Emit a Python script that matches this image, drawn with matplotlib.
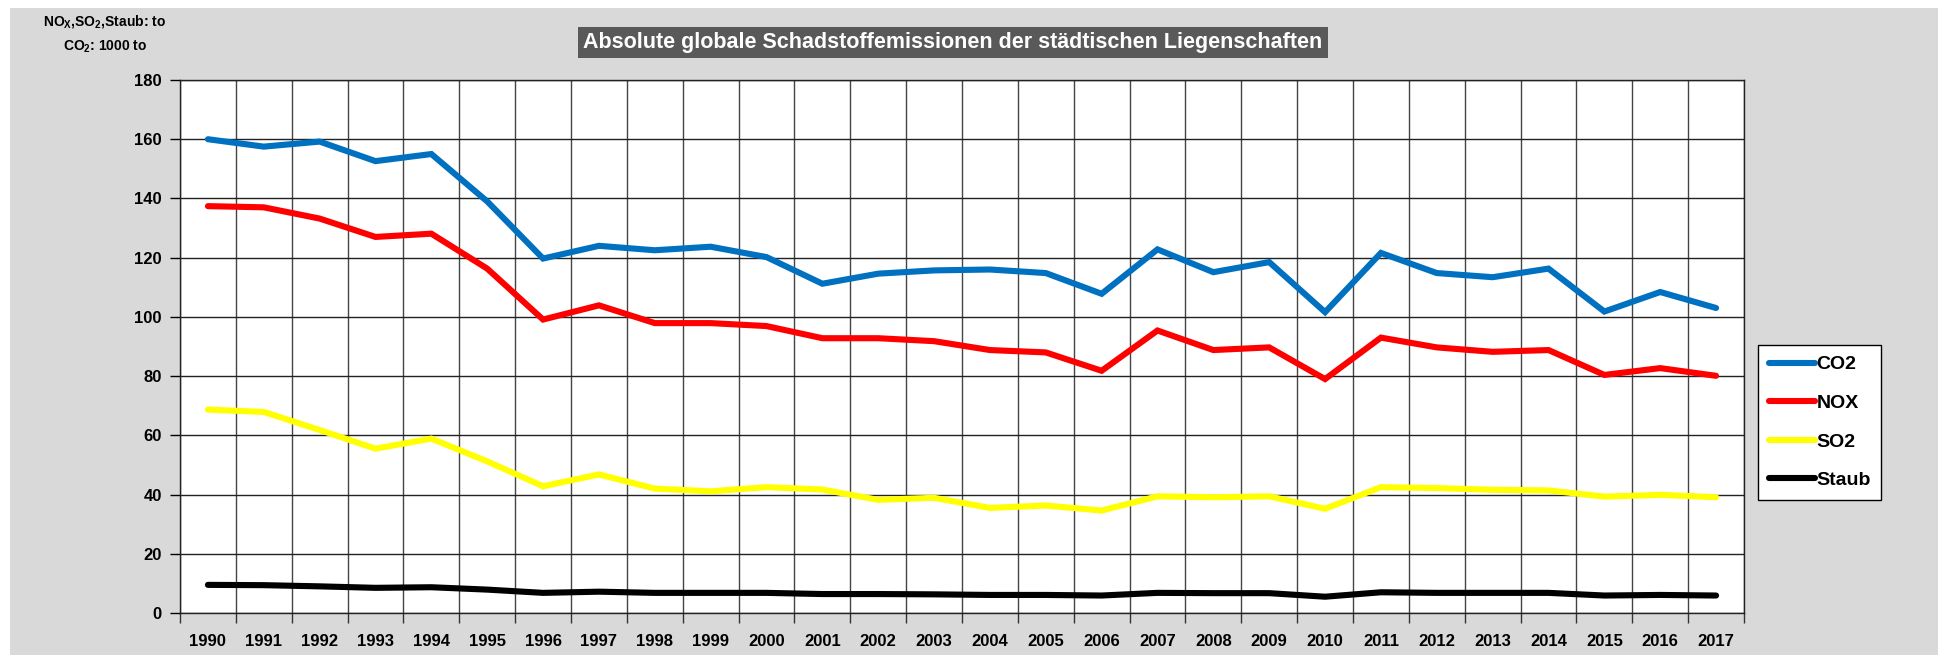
import matplotlib
matplotlib.use("Agg")
import matplotlib.pyplot as plt
from matplotlib.patches import Rectangle

plt.rcParams['font.family'] = ['Liberation Sans', 'DejaVu Sans']
plt.rcParams['font.weight'] = 'bold'
plt.rcParams['mathtext.fontset'] = 'custom'
plt.rcParams['mathtext.rm'] = 'Liberation Sans:bold'
plt.rcParams['mathtext.it'] = 'Liberation Sans:bold'
plt.rcParams['mathtext.bf'] = 'Liberation Sans:bold'
plt.rcParams['mathtext.default'] = 'rm'

years = [str(y) for y in range(1990, 2018)]
co2 = [160, 157.5, 159.2, 152.6, 155, 139, 119.7, 124, 122.5, 123.7, 120.2,
       111.2, 114.6, 115.7, 116, 114.8, 107.8, 122.8, 115.1, 118.5, 101.6,
       121.6, 114.8, 113.4, 116.3, 101.8, 108.4, 103]
nox = [137.4, 137, 133.2, 127, 128.1, 116.3, 99.1, 103.9, 97.9, 97.9, 96.9,
       92.8, 92.8, 91.8, 88.8, 88, 81.8, 95.4, 88.8, 89.7, 79,
       93, 89.7, 88.2, 88.8, 80.4, 82.7, 80.1]
so2 = [68.7, 67.9, 61.8, 55.5, 58.9, 51.2, 42.8, 46.8, 42, 41.1, 42.5,
       41.7, 38.2, 38.9, 35.5, 36.3, 34.6, 39.4, 39.1, 39.4, 35.2,
       42.5, 42.2, 41.6, 41.4, 39.3, 39.9, 39.1]
staub = [9.5, 9.4, 9.0, 8.5, 8.7, 7.9, 6.8, 7.2, 6.8, 6.8, 6.8,
         6.4, 6.4, 6.3, 6.1, 6.1, 5.9, 6.8, 6.7, 6.7, 5.5,
         7.0, 6.8, 6.8, 6.8, 5.9, 6.1, 5.9]
series_names = ['CO2', 'NOX', 'SO2', 'Staub']
series_colors = ['#0070C0', '#FF0000', '#FFFF00', '#000000']
title = 'Absolute globale Schadstoffemissionen der städtischen Liegenschaften'

W, H = 1938, 658
fig = plt.figure(figsize=(W / 100, H / 100), dpi=100, facecolor='white')
fig.patches.append(Rectangle((10 / W, 3 / H), 1 - 10 / W, 1 - 11 / H,
                             transform=fig.transFigure, facecolor='#D9D9D9',
                             edgecolor='none', zorder=-10))

ax = fig.add_axes([180 / W, (H - 613) / H, (1744 - 180) / W, (613 - 80) / H])
ax.set_facecolor('white')
x = list(range(len(years)))
for vals, name, col in zip([co2, nox, so2, staub], series_names, series_colors):
    ax.plot(x, vals, color=col, lw=4.4, label=name, solid_capstyle='round',
            solid_joinstyle='miter', zorder=3)

ax.set_xlim(-0.5, len(years) - 0.5)
ax.set_ylim(0, 180)
ax.set_yticks(range(0, 181, 20))
ax.set_xticks(x)
ax.set_xticklabels(years)
ax.set_xticks([i - 0.5 for i in range(len(years) + 1)], minor=True)
ax.tick_params(axis='x', which='major', length=0, pad=15, labelsize=12)
ax.tick_params(axis='x', which='minor', length=7, width=1, direction='out', color='#333333')
ax.tick_params(axis='y', which='major', length=7, width=1, direction='out', pad=6, labelsize=12)
ax.grid(True, axis='y', which='major', color='#222222', lw=1)
ax.grid(True, axis='x', which='minor', color='#444444', lw=1)
for s in ax.spines.values():
    s.set_color('#222222')
    s.set_linewidth(1)
for lab in ax.get_xticklabels() + ax.get_yticklabels():
    lab.set_fontweight('bold')

fig.text(953 / W, 1 - 42.5 / H, title, ha='center', va='center', color='white',
         fontsize=15.5, fontweight='bold',
         bbox=dict(boxstyle='square,pad=0.25', facecolor='#595959', edgecolor='none'))

fig.text(105 / W, 1 - 22 / H, r'NO$_{X}$,SO$_{2}$,Staub: to', ha='center', va='center',
         fontsize=10, fontweight='bold')
fig.text(105 / W, 1 - 47 / H, r'CO$_{2}$: 1000 to', ha='center', va='center',
         fontsize=10, fontweight='bold')

leg = fig.legend(loc='upper left', bbox_to_anchor=(1758 / W, 1 - 345 / H),
                 bbox_transform=fig.transFigure, frameon=True, fancybox=False,
                 edgecolor='black', facecolor='white', framealpha=1,
                 handlelength=2.4, handletextpad=0.05, labelspacing=1.08,
                 borderpad=0.55, borderaxespad=0, prop={'weight': 'bold', 'size': 14})
leg.get_frame().set_linewidth(1)

fig.savefig('out.png', dpi=100, facecolor='white')
